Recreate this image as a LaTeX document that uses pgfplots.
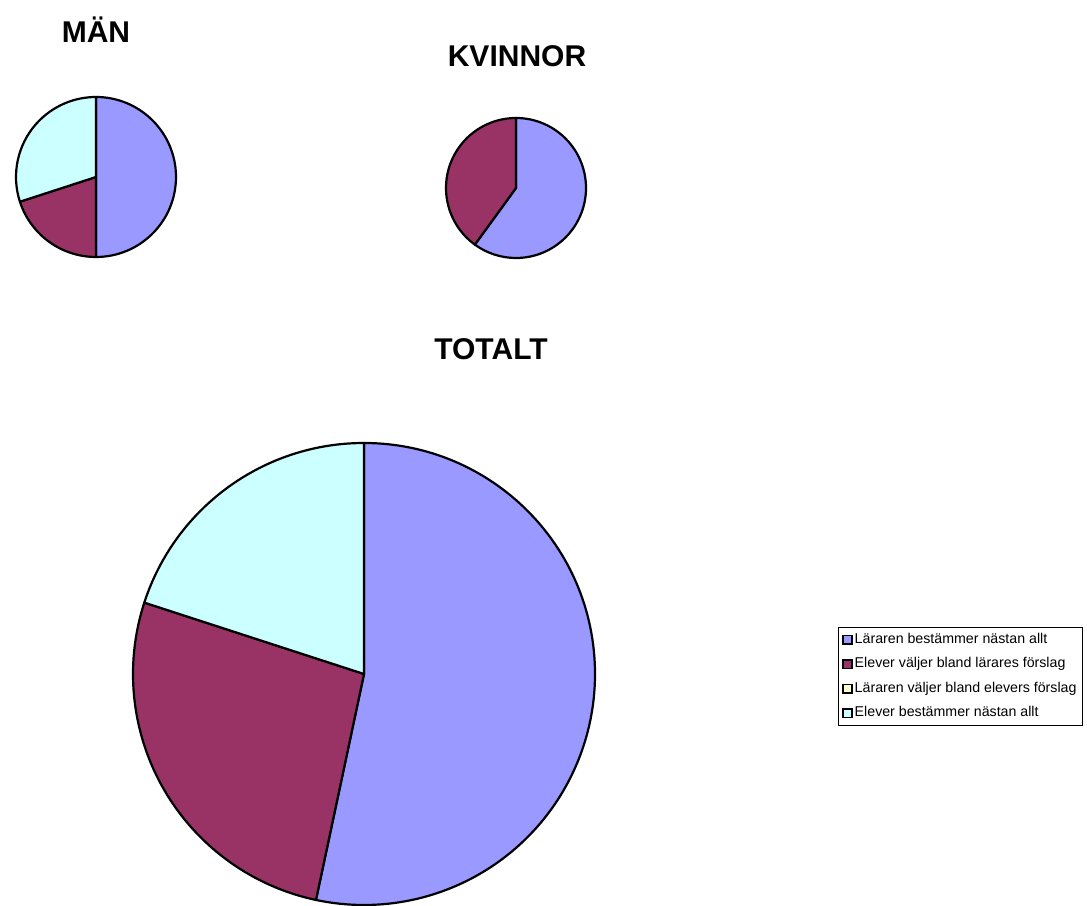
\documentclass[border=0pt]{standalone}
\usepackage{pgfplots}
\pgfplotsset{compat=1.18}
\usepackage{pgfplotstable}
\usepackage{fontspec}
\setmainfont{Liberation Sans}
\definecolor{pieblue}{HTML}{9999FF}
\definecolor{piemaroon}{HTML}{993366}
\definecolor{pieyellow}{HTML}{FFFFCC}
\definecolor{piecyan}{HTML}{CCFFFF}

% MÄN
\pgfplotstableread{
value color
5 pieblue
2 piemaroon
0 pieyellow
3 piecyan
}\mantab
% KVINNOR
\pgfplotstableread{
value color
3 pieblue
2 piemaroon
0 pieyellow
0 piecyan
}\kvinntab
% TOTALT
\pgfplotstableread{
value color
8 pieblue
4 piemaroon
0 pieyellow
3 piecyan
}\totaltab

\newcommand\drawpie[4]{%
  \pgfplotstablegetrowsof{#4}%
  \pgfmathtruncatemacro\pielast{\pgfplotsretval-1}%
  \def\pietotal{0}%
  \pgfplotsforeachungrouped \pierow in {0,...,\pielast}{%
    \pgfplotstablegetelem{\pierow}{value}\of{#4}%
    \pgfmathsetmacro\pietotal{\pietotal+\pgfplotsretval}%
  }%
  \def\piecum{0}%
  \pgfplotsforeachungrouped \pierow in {0,...,\pielast}{%
    \pgfplotstablegetelem{\pierow}{value}\of{#4}%
    \let\pieval\pgfplotsretval
    \pgfplotstablegetelem{\pierow}{color}\of{#4}%
    \let\piecol\pgfplotsretval
    \pgfmathsetmacro\piestart{90-360*\piecum/\pietotal}%
    \pgfmathsetmacro\pieend{90-360*(\piecum+\pieval)/\pietotal}%
    \pgfmathsetmacro\piecum{\piecum+\pieval}%
    \ifdim\pieval pt>0pt
      \edef\pieslice{\noexpand\filldraw[fill=\piecol,draw=black,line width=2.2pt,line join=round] (axis cs:#1,#2) -- ++(\piestart:#3pt) arc[start angle=\piestart,end angle=\pieend,radius=#3pt] -- cycle;}%
      \pieslice
    \fi
  }%
}

\begin{document}
\begin{tikzpicture}
\begin{axis}[name=main, x=1pt, y=1pt, xmin=0, xmax=1087, ymin=0, ymax=905,
  hide axis, clip=false,
  legend style={at={(axis description cs:0.7709,0.3072)}, anchor=north west,
    draw=black, line width=0.9pt, font=\fontsize{14.2}{17}\selectfont,
    inner xsep=4pt, inner ysep=3.5pt, row sep=7pt,
    nodes={inner sep=2pt, text height=10.5pt, text depth=3pt}},
  legend cell align=left,
  legend image code/.code={\draw[#1, line width=1.7pt] (0pt,-4.3pt) rectangle (8.6pt,4.3pt);},
]
\addlegendimage{fill=pieblue, draw=black}
\addlegendentry{Läraren bestämmer nästan allt}
\addlegendimage{fill=piemaroon, draw=black}
\addlegendentry{Elever väljer bland lärares förslag}
\addlegendimage{fill=pieyellow, draw=black}
\addlegendentry{Läraren väljer bland elevers förslag}
\addlegendimage{fill=piecyan, draw=black}
\addlegendentry{Elever bestämmer nästan allt}

\pgfplotsextra{\drawpie{96}{728}{80}{\mantab}}
\pgfplotsextra{\drawpie{516}{717}{70}{\kvinntab}}
\pgfplotsextra{\drawpie{364}{231}{231}{\totaltab}}

\node[anchor=base, font=\fontsize{30}{36}\selectfont\bfseries] at (axis cs:96,862) {MÄN};
\node[anchor=base, font=\fontsize{30}{36}\selectfont\bfseries] at (axis cs:517,838) {KVINNOR};
\node[anchor=base, font=\fontsize{30}{36}\selectfont\bfseries] at (axis cs:491,545) {TOTALT};
\end{axis}
\pgfresetboundingbox
\path (main.south west) rectangle (main.north east);
\end{tikzpicture}
\end{document}
